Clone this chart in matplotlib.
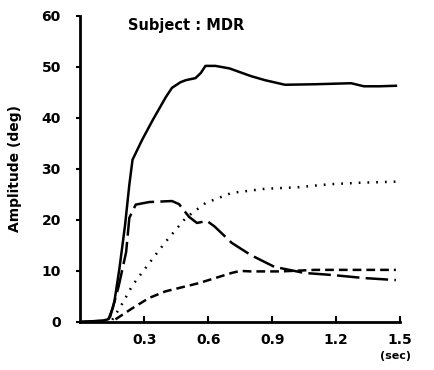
import matplotlib.pyplot as plt
import numpy as np

# time (sec) and amplitude (deg)
t_solid = [0.0, 0.10, 0.13, 0.14, 0.16, 0.184, 0.21, 0.23, 0.245, 0.29, 0.34, 0.40,
           0.43, 0.47, 0.495, 0.54, 0.565, 0.587, 0.634, 0.70, 0.74, 0.80, 0.866,
           0.96, 1.10, 1.27, 1.33, 1.40, 1.48]
amp_solid = [0.0, 0.2, 0.5, 1.0, 4.0, 10.6, 19.0, 26.9, 31.8, 35.7, 39.6, 44.0,
             45.9, 47.0, 47.4, 47.8, 48.8, 50.2, 50.2, 49.7, 49.1, 48.2, 47.4,
             46.5, 46.6, 46.8, 46.2, 46.2, 46.3]

t_longdash = [0.0, 0.13, 0.152, 0.18, 0.215, 0.23, 0.26, 0.323, 0.43, 0.463,
              0.51, 0.547, 0.594, 0.63, 0.71, 0.80, 0.91, 1.05, 1.18, 1.33, 1.48]
amp_longdash = [0.0, 0.3, 2.7, 7.0, 13.7, 20.4, 23.0, 23.5, 23.7, 23.1,
                20.6, 19.4, 19.8, 18.7, 15.5, 13.1, 10.8, 9.6, 9.2, 8.6, 8.2]

t_dotted = [0.15, 0.20, 0.245, 0.323, 0.40, 0.495, 0.587, 0.71, 0.866, 1.02,
            1.17, 1.32, 1.48]
amp_dotted = [0.4, 3.8, 7.2, 11.5, 15.7, 20.4, 23.3, 25.3, 26.1, 26.4,
              27.0, 27.3, 27.5]

t_dashed = [0.165, 0.245, 0.323, 0.40, 0.556, 0.71, 0.75, 0.80, 0.94, 1.10, 1.30, 1.48]
amp_dashed = [0.5, 2.7, 4.7, 6.0, 7.6, 9.6, 10.0, 9.9, 9.9, 10.2, 10.2, 10.2]

x_ticks = [0.3, 0.6, 0.9, 1.2, 1.5]
x_labels = ["0.3", "0.6", "0.9", "1.2", "1.5"]
y_ticks = [0, 10, 20, 30, 40, 50, 60]

fig = plt.figure(figsize=(4.34, 3.70), dpi=100)
ax = fig.add_axes([0.185, 0.130, 0.737, 0.827])

ax.plot(t_solid, amp_solid, color='black', lw=1.8)
ax.plot(t_longdash, amp_longdash, color='black', lw=1.8, linestyle=(0, (9, 2.5)))
ax.plot(t_dotted, amp_dotted, color='black', lw=1.8, linestyle=(0, (0.7, 2.8)))
ax.plot(t_dashed, amp_dashed, color='black', lw=1.8, linestyle=(0, (3.5, 2)))

ax.set_xlim(0, 1.5)
ax.set_ylim(0, 60)
ax.set_xticks(x_ticks)
ax.set_xticklabels(x_labels)
ax.set_yticks(y_ticks)

for s in ['top', 'right']:
    ax.spines[s].set_visible(False)
for s in ['left', 'bottom']:
    ax.spines[s].set_linewidth(2)

ax.tick_params(axis='x', direction='in', length=4, width=1.5, labelsize=10, pad=8)
ax.tick_params(axis='y', direction='out', length=3, width=1.5, labelsize=10, pad=11)
for lbl in ax.get_xticklabels() + ax.get_yticklabels():
    lbl.set_fontweight('bold')

ax.set_ylabel("Amplitude (deg)", fontsize=10, fontweight='bold', labelpad=14)
ax.text(0.332, 0.97, "Subject : MDR", transform=ax.transAxes, ha='center', va='center',
        fontsize=10.5, fontweight='bold')
ax.text(0.985, -0.11, "(sec)", transform=ax.transAxes, ha='center', va='center',
        fontsize=8, fontweight='bold')

fig.savefig("out.png", dpi=100)
